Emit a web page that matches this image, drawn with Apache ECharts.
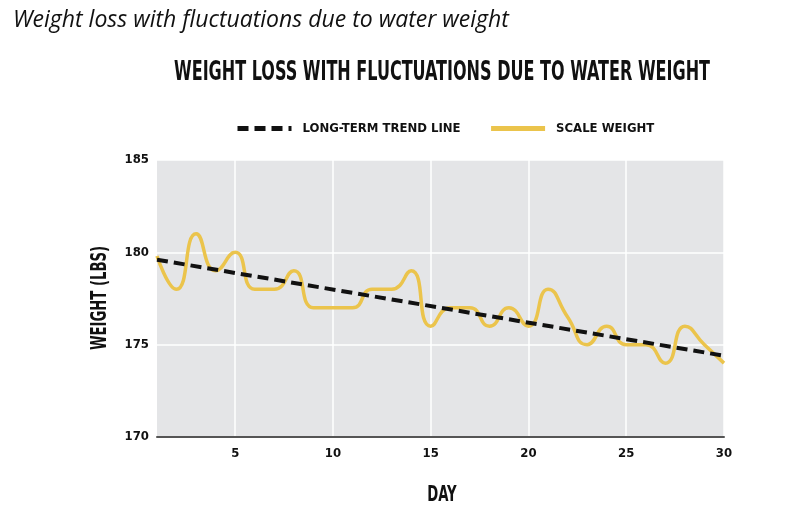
<!DOCTYPE html>
<html>
<head>
<meta charset="utf-8">
<script src="https://cdn.jsdelivr.net/npm/echarts@6/dist/echarts.min.js"></script>
<style>
  html, body { margin: 0; padding: 0; background: #fff; }
  #chartContainer { width: 800px; height: 513px; }
</style>
</head>
<body>
<div id="chartContainer"></div>
<script>
// data
var days = [1, 2, 3, 4, 5, 6, 7, 8, 9, 10, 11, 12, 13, 14, 15,
            16, 17, 18, 19, 20, 21, 22, 23, 24, 25, 26, 27, 28, 29, 30];
var scaleWeight = [179.8, 178, 181, 179, 180, 178, 178, 179, 177, 177, 177, 178, 178, 179, 176,
                   177, 177, 176, 177, 176, 178, 176.5, 175, 176, 175, 175, 174, 176, 175, 174];
var trendDays = [1, 30];
var trendWeight = [179.6, 174.4];
var dayTicks = [5, 10, 15, 20, 25, 30];

var condensed = "'DejaVu Sans Condensed', 'Liberation Sans Narrow', sans-serif";

var scalePoints = [], trendPoints = [], i;
for (i = 0; i < days.length; i++) {
    scalePoints.push([days[i], scaleWeight[i]]);
}
for (i = 0; i < trendDays.length; i++) {
    trendPoints.push([trendDays[i], trendWeight[i]]);
}

var chart = echarts.init(document.getElementById('chartContainer'));
var option = {
    backgroundColor: '#ffffff',
    title: {
        text: 'Weight loss with fluctuations due to water weight',
        left: 8, top: 4,
        textStyle: { fontFamily: "'Open Sans', sans-serif", fontStyle: 'italic', fontWeight: 'normal', fontSize: 23, color: '#111' }
    },
    // the chart title is a tall, narrow face: squeeze it sideways
    graphic: [
        {
            type: 'text', x: 442, y: 73, scaleX: 0.66,
            style: {
                text: 'WEIGHT LOSS WITH FLUCTUATIONS DUE TO WATER WEIGHT',
                font: "bold 27px " + condensed, fill: '#111',
                textAlign: 'center', textVerticalAlign: 'middle'
            }
        },
        {
            type: 'text', x: 442, y: 496, scaleX: 0.7,
            style: {
                text: 'DAY', font: "bold 21px " + condensed, fill: '#111',
                textAlign: 'center', textVerticalAlign: 'middle'
            }
        },
        {
            type: 'text', x: 101, y: 298, rotation: Math.PI / 2, scaleX: 0.7,
            style: {
                text: 'WEIGHT (LBS)', font: "bold 21px " + condensed, fill: '#111',
                textAlign: 'center', textVerticalAlign: 'middle'
            }
        }
    ],
    legend: {
        top: 117, left: 230,
        itemWidth: 54, itemHeight: 14, itemGap: 28,
        data: ['LONG-TERM TREND LINE', 'SCALE WEIGHT'],
        itemStyle: { opacity: 0 },
        lineStyle: { width: 5 },
        textStyle: { fontFamily: condensed, fontWeight: 'bold', fontSize: 13, color: '#111', padding: [0, 0, 0, 6] }
    },
    grid: {
        show: true, left: 157, right: 76, top: 160, bottom: 76,
        backgroundColor: '#e4e5e7', borderWidth: 0
    },
    xAxis: {
        type: 'value', min: 1, max: 30,
        axisLine: { show: true, lineStyle: { color: '#555', width: 2 } },
        axisTick: { show: false, customValues: dayTicks },
        axisLabel: { customValues: dayTicks, margin: 10, fontFamily: condensed, fontWeight: 'bold', fontSize: 13, color: '#111' },
        splitLine: { show: true, lineStyle: { color: '#ffffff', width: 1.5 } }
    },
    yAxis: {
        type: 'value', min: 170, max: 185, interval: 5,
        axisLine: { show: false },
        axisTick: { show: false },
        axisLabel: { margin: 8, fontFamily: condensed, fontWeight: 'bold', fontSize: 13, color: '#111' },
        splitLine: { show: true, lineStyle: { color: '#ffffff', width: 1.5 } }
    },
    series: [
        {
            name: 'SCALE WEIGHT',
            type: 'line',
            smooth: 0.55,
            symbol: 'none',
            data: scalePoints,
            lineStyle: { color: '#ebc44c', width: 3.5 },
            itemStyle: { color: '#ebc44c' }
        },
        {
            name: 'LONG-TERM TREND LINE',
            type: 'line',
            symbol: 'none',
            data: trendPoints,
            lineStyle: { color: '#111', width: 4, type: [11, 6] },
            itemStyle: { color: '#111' }
        }
    ]
};
chart.setOption(option);
</script>
</body>
</html>
